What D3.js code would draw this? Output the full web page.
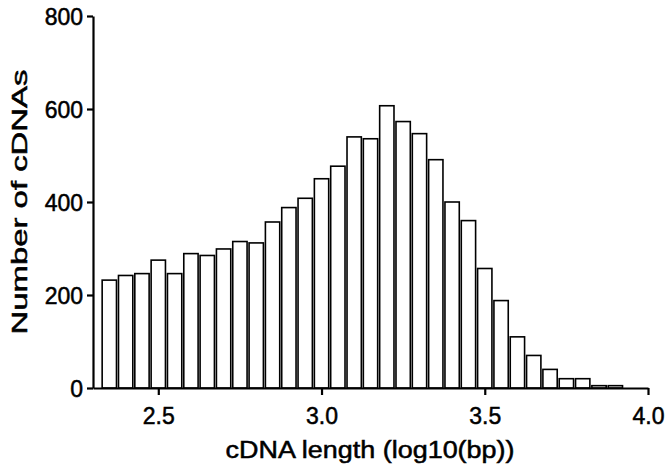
<!DOCTYPE html>
<html>
<head>
<meta charset="utf-8">
<script src="https://cdn.jsdelivr.net/npm/d3@7"></script>
<style>
    body { margin: 0; background: #fff; }
    text { font-family: "Liberation Sans", Arial, sans-serif; fill: #000; stroke: #000; stroke-width: 0.5px; }
</style>
</head>
<body>
<div id="chart"></div>
<script>
// Bin centres (log10 of cDNA length) and the count in each bin
const binCentres = [2.35, 2.40, 2.45, 2.50, 2.55, 2.60, 2.65, 2.70, 2.75, 2.80,
                    2.85, 2.90, 2.95, 3.00, 3.05, 3.10, 3.15, 3.20, 3.25, 3.30,
                    3.35, 3.40, 3.45, 3.50, 3.55, 3.60, 3.65, 3.70, 3.75, 3.80,
                    3.85, 3.90]
const counts = [232, 242, 246, 275, 246, 289, 285, 299, 315, 312,
                357, 388, 408, 450, 477, 540, 536, 607, 573, 547,
                491, 400, 360, 257, 188, 110, 70, 40, 20, 20,
                5, 5]
const binWidth = 0.05
const xTicks = [2.5, 3.0, 3.5, 4.0]
const yTicks = [0, 200, 400, 600, 800]

function drawHistogram(container) {
    const width = 672, height = 468

    const svg = d3.select(container).append("svg")
        .attr("width", width)
        .attr("height", height)

    // Scales
    const x = d3.scaleLinear().domain([2.3, 4.0]).range([93, 648])
    const y = d3.scaleLinear().domain([0, 800]).range([388, 16])

    // Bars: white boxes with a black outline, small gap between them
    const data = binCentres.map((c, i) => ({centre: c, count: counts[i]}))
    const gap = 2
    svg.append("g")
        .selectAll("rect")
        .data(data)
        .enter()
        .append("rect")
            .attr("x",      d => x(d.centre - binWidth / 2) + gap / 2)
            .attr("width",  d => x(d.centre + binWidth / 2) - x(d.centre - binWidth / 2) - gap)
            .attr("y",      d => y(d.count))
            .attr("height", d => y(0) - y(d.count))
            .style("fill", "#fff")
            .style("stroke", "#000")
            .style("stroke-width", 1.6)

    // Axes
    const xAxis = svg.append("g")
        .attr("transform", `translate(0,${y(0)})`)
        .call(d3.axisBottom(x).tickValues(xTicks).tickFormat(d3.format(".1f"))
            .tickSize(7).tickSizeOuter(0).tickPadding(13))
    const yAxis = svg.append("g")
        .attr("transform", `translate(${x(2.3)},0)`)
        .call(d3.axisLeft(y).tickValues(yTicks).tickSize(6).tickSizeOuter(0).tickPadding(4))

    for (const ax of [xAxis, yAxis]) {
        ax.select(".domain").attr("stroke", "#000").attr("stroke-width", 2.2)
        ax.selectAll(".tick line").attr("stroke", "#000").attr("stroke-width", 2.2)
        ax.selectAll(".tick text")
            .style("font-size", "23px")
            .style("font-family", "'Liberation Sans', Arial, sans-serif")
            .attr("fill", "#000")
    }
    yAxis.selectAll(".tick text").attr("dy", "0.36em")

    // Axis titles
    svg.append("text")
        .attr("x", 370)
        .attr("y", 458)
        .attr("text-anchor", "middle")
        .attr("textLength", 289)
        .attr("lengthAdjust", "spacingAndGlyphs")
        .style("font-size", "23px")
        .text("cDNA length (log10(bp))")

    svg.append("text")
        .attr("transform", "translate(27,202) rotate(-90)")
        .attr("text-anchor", "middle")
        .attr("textLength", 265)
        .attr("lengthAdjust", "spacingAndGlyphs")
        .style("font-size", "22px")
        .text("Number of cDNAs")
}

drawHistogram("#chart")
</script>
</body>
</html>
